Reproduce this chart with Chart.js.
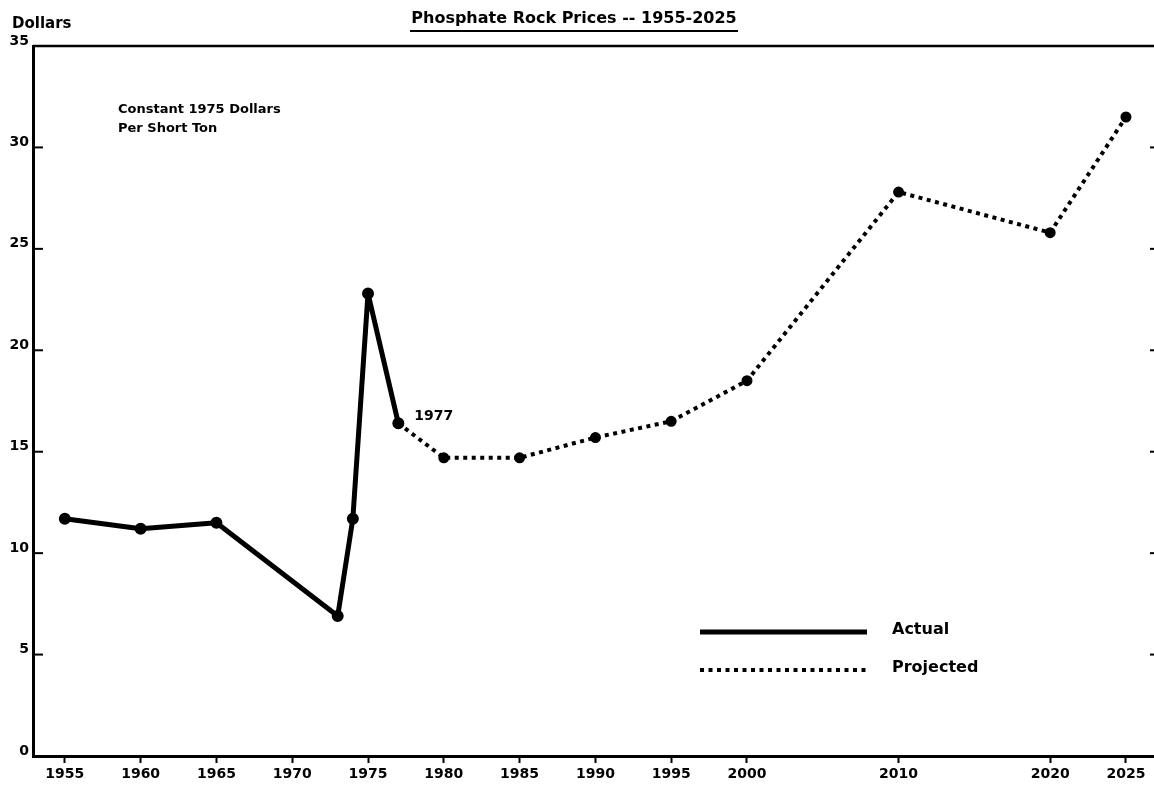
<!DOCTYPE html>
<html>
<head>
<meta charset="utf-8">
<script src="https://cdn.jsdelivr.net/npm/chart.js@4/dist/chart.umd.min.js"></script>
<style>
  body { margin: 0; background: #fff; }
  canvas { display: block; }
</style>
</head>
<body>
<canvas id="priceChart" width="1154" height="790"></canvas>
<script>
// data (constant 1975 dollars per short ton)
var actualYears = [1955, 1960, 1965, 1973, 1974, 1975, 1977];
var actualPrices = [11.7, 11.2, 11.5, 6.9, 11.7, 22.8, 16.4];
var projectedYears = [1977, 1980, 1985, 1990, 1995, 2000, 2010, 2020, 2025];
var projectedPrices = [16.4, 14.7, 14.7, 15.7, 16.5, 18.5, 27.8, 25.8, 31.5];
var xTickYears = [1955, 1960, 1965, 1970, 1975, 1980, 1985, 1990, 1995, 2000, 2010, 2020, 2025];
var seriesNames = ["Actual", "Projected"];

Chart.defaults.font.family = "'DejaVu Sans', sans-serif";
Chart.defaults.font.weight = "bold";
Chart.defaults.color = "#000";

function line(ctx, x1, y1, x2, y2) {
  ctx.beginPath();
  ctx.moveTo(x1, y1);
  ctx.lineTo(x2, y2);
  ctx.stroke();
}

var overlay = {
  id: "overlay",
  afterDraw: function (chart) {
    var ctx = chart.ctx;
    var a = chart.chartArea;
    var x = chart.scales.x;
    var y = chart.scales.y;
    ctx.save();
    ctx.strokeStyle = "#000";
    ctx.fillStyle = "#000";

    // top frame line
    ctx.lineWidth = 2.5;
    line(ctx, a.left, a.top, a.right, a.top);

    // inward y ticks, and the small marks on the right edge
    ctx.lineWidth = 2;
    y.ticks.forEach(function (t) {
      if (t.value <= 0 || t.value >= 35) return;
      var py = y.getPixelForValue(t.value);
      line(ctx, a.left, py, a.left + 10, py);
      line(ctx, a.right - 4, py, a.right, py);
    });

    // title + underline
    ctx.textAlign = "center";
    ctx.textBaseline = "alphabetic";
    ctx.font = "bold 16px 'DejaVu Sans'";
    ctx.fillText("Phosphate Rock Prices -- 1955-2025", 574, 23);
    ctx.lineWidth = 2;
    line(ctx, 410, 31, 738, 31);

    // axis title
    ctx.textAlign = "left";
    ctx.font = "bold 15px 'DejaVu Sans'";
    ctx.fillText("Dollars", 12, 28);

    // units note
    ctx.font = "bold 13px 'DejaVu Sans'";
    ctx.fillText("Constant 1975 Dollars", 118, 113);
    ctx.fillText("Per Short Ton", 118, 132);

    // 1977 label next to the last actual point
    var last = actualYears.length - 1;
    ctx.font = "bold 14px 'DejaVu Sans'";
    ctx.fillText("1977", x.getPixelForValue(actualYears[last]) + 16, y.getPixelForValue(actualPrices[last]) - 3);

    // legend
    var rows = [632, 670];
    ctx.font = "bold 16px 'DejaVu Sans'";
    chart.data.datasets.forEach(function (ds, i) {
      ctx.lineWidth = ds.borderWidth;
      ctx.setLineDash(ds.borderDash || []);
      line(ctx, 700, rows[i], 867, rows[i]);
      ctx.setLineDash([]);
      ctx.fillText(ds.label, 892, rows[i] + 2);
    });
    ctx.restore();
  }
};

new Chart(document.getElementById("priceChart").getContext("2d"), {
  type: "line",
  data: {
    datasets: [
      {
        label: seriesNames[0],
        data: actualYears.map(function (yr, i) { return { x: yr, y: actualPrices[i] }; }),
        borderColor: "#000",
        backgroundColor: "#000",
        borderWidth: 5,
        borderJoinStyle: "round",
        pointRadius: 3.5,
        tension: 0,
      },
      {
        label: seriesNames[1],
        data: projectedYears.map(function (yr, i) { return { x: yr, y: projectedPrices[i] }; }),
        borderColor: "#000",
        backgroundColor: "#000",
        borderWidth: 4,
        borderDash: [4, 4.5],
        borderCapStyle: "butt",
        pointRadius: 3.5,
        tension: 0,
      },
    ],
  },
  options: {
    responsive: false,
    animation: false,
    devicePixelRatio: 1,
    layout: { autoPadding: false, padding: { top: 46, right: 0, left: 0, bottom: 0 } },
    plugins: {
      legend: { display: false },
      title: { display: false },
      tooltip: { enabled: false },
    },
    scales: {
      x: {
        type: "linear",
        min: 1952.9,
        max: 2026.85,
        afterBuildTicks: function (scale) {
          scale.ticks = xTickYears.map(function (v) { return { value: v }; });
        },
        afterFit: function (scale) {
          scale.height = 34;
          scale.paddingLeft = 0;
          scale.paddingRight = 0;
        },
        grid: {
          drawOnChartArea: false,
          drawTicks: true,
          tickLength: 7,
          tickWidth: 2,
          tickColor: "#000",
        },
        border: { display: true, color: "#000", width: 3 },
        ticks: {
          autoSkip: false,
          maxRotation: 0,
          padding: 3,
          font: { size: 14, weight: "bold" },
          callback: function (v) { return String(v); },
        },
      },
      y: {
        min: 0,
        max: 35,
        afterFit: function (scale) {
          scale.width = 33;
          scale.paddingTop = 0;
          scale.paddingBottom = 0;
        },
        grid: { drawOnChartArea: false, drawTicks: false },
        border: { display: true, color: "#000", width: 3 },
        ticks: {
          stepSize: 5,
          padding: 4,
          labelOffset: -5,
          font: { size: 14, weight: "bold" },
        },
      },
    },
  },
  plugins: [overlay],
});
</script>
</body>
</html>
